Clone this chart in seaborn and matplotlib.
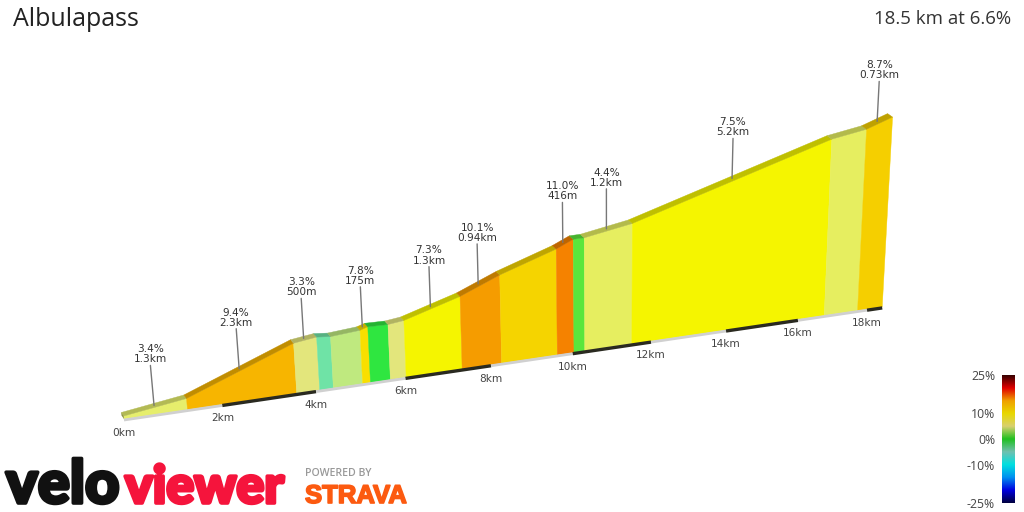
import numpy as np
import pandas as pd
import matplotlib
matplotlib.use("Agg")
import matplotlib.pyplot as plt
import matplotlib.patheffects as pe
import seaborn as sns

# ---------- data ----------
seg_length_km = [1.28, 2.3, 0.5, 0.3, 0.65, 0.175, 0.45, 0.36, 1.3, 0.94, 1.36, 0.416, 0.27, 1.2, 5.25, 0.97, 0.73]
seg_grade_pct = [3.4, 9.4, 3.3, -2.5, 2.0, 7.8, -0.5, 3.0, 7.3, 10.1, 8.2, 11.0, 0.5, 4.4, 7.5, 4.4, 8.7]
seg_colour = ["#e6ee6c", "#f7b500", "#e3e67c", "#6fe3a6", "#bfe97f", "#f9df00", "#2fe640", "#e3e67c",
              "#f5f500", "#f59c00", "#f5d400", "#f58200", "#5ae63c", "#e6ee60", "#f5f500", "#e6ee60", "#f5cf00"]
callout_seg = [0, 1, 2, 5, 8, 9, 11, 13, 14, 16]
callout_pct = ["3.4%", "9.4%", "3.3%", "7.8%", "7.3%", "10.1%", "11.0%", "4.4%", "7.5%", "8.7%"]
callout_len = ["1.3km", "2.3km", "500m", "175m", "1.3km", "0.94km", "416m", "1.2km", "5.2km", "0.73km"]
km_ticks = [0, 2, 4, 6, 8, 10, 12, 14, 16, 18]
scale_ticks = [25, 10, 0, -10, -25]
scale_colours = ["#000040", "#0000e0", "#0090f0", "#00e0e0", "#70c0b0", "#20c020",
                 "#d8d070", "#e8d800", "#f0a000", "#e00000", "#380000"]
title = "Albulapass"
summary = "18.5 km at 6.6%"

# ---------- projection of (km, elevation) onto the page ----------
PX, PY, PA, PB, PS = 124.0, 419.0, 50.36, 0.01222, 0.1478
H0, VS, LEAN, VX = 3.0, 0.19, 0.0002, 610.0

def base_xy(km):
    x = PX + PA * km / (1 + PB * km)
    return x, PY - PS * (x - PX)

def project(km, ele, depth=0.0):
    xb, yb = base_xy(km)
    h = H0 + VS * ele / (1 + PB * km)
    x = xb + (xb - VX) * LEAN * h
    return x - (2.5 + 2.5 * km / 18.5) * depth, yb - h - 3.5 * depth

edges = np.concatenate([[0], np.cumsum(seg_length_km)])
total_km = edges[-1]
elev = np.concatenate([[0], np.cumsum(np.array(seg_length_km) * np.array(seg_grade_pct) * 10)])

def elev_at(km):
    return np.interp(km, edges, elev)

def shade(colour, f=0.78):
    return tuple(np.array(matplotlib.colors.to_rgb(colour)) * f)

# ---------- page ----------
sns.set_theme(style="white")
plt.rcParams["font.family"] = ["DejaVu Sans"]
fig = plt.figure(figsize=(10.24, 5.12), dpi=100, facecolor="white")
ax = fig.add_axes([0, 0, 1, 1])
ax.set_xlim(0, 1024)
ax.set_ylim(512, 0)
ax.axis("off")

# walls and road surface
for i, col in enumerate(seg_colour):
    k0, k1 = edges[i], edges[i + 1]
    b0, b1 = base_xy(k0), base_xy(k1)
    t0, t1 = project(k0, elev[i]), project(k1, elev[i + 1])
    d0, d1 = project(k0, elev[i], 1), project(k1, elev[i + 1], 1)
    ax.fill([b0[0], b1[0], t1[0], t0[0]], [b0[1], b1[1], t1[1], t0[1]],
            facecolor=col, edgecolor=col, lw=0.3, zorder=2)
    ax.fill([t0[0], t1[0], d1[0], d0[0]], [t0[1], t1[1], d1[1], d0[1]],
            facecolor=shade(col), edgecolor=shade(col), lw=0.3, zorder=3)

# start cap
t0, d0, b0 = project(0, 0), project(0, 0, 1), base_xy(0)
ax.fill([b0[0], t0[0], d0[0], b0[0] - 2.5], [b0[1], t0[1], d0[1], b0[1] - 3.5],
        facecolor=shade(seg_colour[0], 0.62), edgecolor="none", zorder=3)

# road strip along the base, alternating every 2 km
stops = km_ticks + [total_km]
for a, b in zip(stops[:-1], stops[1:]):
    ks = np.array([a, b])
    xs, ys = base_xy(ks)
    dark = (km_ticks.index(a) % 2) == 1
    sns.lineplot(x=xs, y=ys + 1.0, ax=ax, color="#2a2a20" if dark else "#d0d0d0",
                 lw=2.4 if dark else 2.0, sort=False, estimator=None, errorbar=None,
                 legend=False, solid_capstyle="butt", zorder=4)

# km labels
for k in km_ticks:
    x, y = base_xy(k)
    ax.text(x, y + 14, f"{k}km", ha="center", va="center", fontsize=7.6, color="#444444", zorder=5)

# callouts
for s, p, l in zip(callout_seg, callout_pct, callout_len):
    km = 0.5 * (edges[s] + edges[s + 1])
    lx, ly = project(km, elev_at(km), 0.5)
    hx, hy = project(km, elev_at(km) + 40 / VS * (1 + PB * km), 0.5)
    sns.lineplot(x=[lx, hx], y=[ly, hy], ax=ax, color="#777777", lw=1.0, sort=False,
                 estimator=None, errorbar=None, legend=False, zorder=5)
    ax.text(hx, hy - 1, f"{p}\n{l}", ha="center", va="bottom", fontsize=7.6,
            color="#333333", linespacing=1.02, zorder=6)

# titles
ax.text(13, 20, title, ha="left", va="center", fontsize=18, color="#222222", family="Open Sans")
ax.text(1011, 19, summary, ha="right", va="center", fontsize=13.4, color="#333333", family="Open Sans")

# logos
ax.text(6, 503, "velo", ha="left", va="baseline", fontsize=43, weight="black", family="Lato", color="#111111",
        path_effects=[pe.withStroke(linewidth=2.6, foreground="#111111")])
ax.text(125, 503, "viewer", ha="left", va="baseline", fontsize=37.5, weight="black", family="Lato", color="#f5143c",
        path_effects=[pe.withStroke(linewidth=2.6, foreground="#f5143c")])
ax.text(305, 473, "POWERED BY", ha="left", va="center", fontsize=7.6, weight="semibold", family="Open Sans", color="#999999")
ax.text(305, 503, "STRAVA", ha="left", va="baseline", fontsize=18.5, weight="bold", family="Liberation Sans", color="#fc5a10",
        path_effects=[pe.withStroke(linewidth=1.2, foreground="#fc5a10")])

# gradient scale
cax = fig.add_axes([1002 / 1024, 1 - 503 / 512, 13 / 1024, 128 / 512])
cmap = sns.blend_palette(scale_colours, n_colors=256, as_cmap=True)
cax.imshow(np.linspace(25, -25, 256).reshape(-1, 1), cmap=cmap, vmin=-25, vmax=25,
           extent=[0, 1, -25, 25], aspect="auto")
cax.set_xticks([])
cax.set_yticks(scale_ticks)
cax.set_yticklabels([f"{t}%" for t in scale_ticks], fontsize=8.8, color="#444444", family="Open Sans")
cax.tick_params(axis="y", length=0, pad=5)
for sp in cax.spines.values():
    sp.set_visible(False)

fig.savefig("out.png", dpi=100, facecolor="white")
